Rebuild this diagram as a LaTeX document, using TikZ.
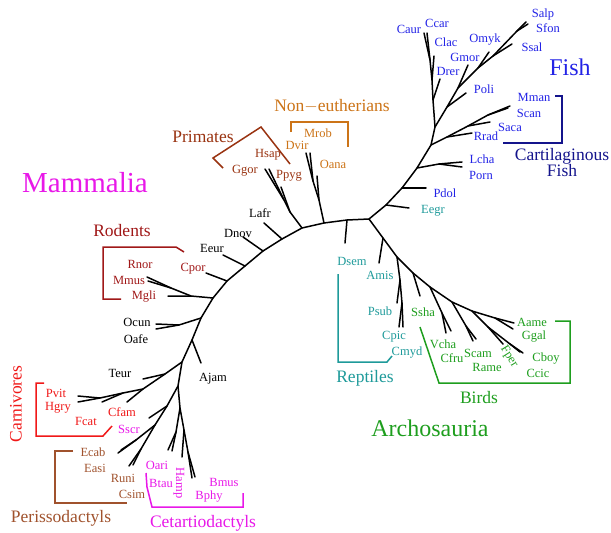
\documentclass[tikz,border=0pt]{standalone}
\usepackage{fontspec}
\setmainfont{Liberation Serif}
\definecolor{fishc}{HTML}{2323E6}
\definecolor{cartc}{HTML}{14148C}
\definecolor{tealc}{HTML}{1E9A9A}
\definecolor{birdc}{HTML}{1E9E1E}
\definecolor{rodc}{HTML}{A01818}
\definecolor{carc}{HTML}{F01818}
\definecolor{magc}{HTML}{E818E8}
\definecolor{perc}{HTML}{A0522D}
\definecolor{primc}{HTML}{993311}
\definecolor{nonc}{HTML}{CC7418}
\begin{document}
\begin{tikzpicture}[x=1pt,y=-1pt,
  br/.style={line width=1.5pt, line cap=round, line join=round},
  brk/.style={line width=1.5pt, line join=miter},
  lab/.style={inner sep=0pt, font=\fontsize{12.5}{14}\selectfont},
  grp/.style={inner sep=0pt, font=\fontsize{17.5}{20}\selectfont},
  big/.style={inner sep=0pt, font=\fontsize{24}{28}\selectfont}]
\useasboundingbox (0,0) rectangle (611,533);
% ---------- coordinates: backbone ----------
\coordinate (R) at (369,219);
\coordinate (Dn) at (347,220); \coordinate (tDsem) at (345,243);
\coordinate (M) at (324,223);
\coordinate (N1) at (319,200); \coordinate (tOana) at (317,176);
\coordinate (N2) at (313,181); \coordinate (tDvir) at (306,153); \coordinate (tMrob) at (310,153);
\coordinate (a1) at (302,228); \coordinate (a2) at (282,239); \coordinate (a3) at (263,251);
\coordinate (a4) at (245,266); \coordinate (a5) at (227,281); \coordinate (a6) at (213,298);
\coordinate (a7) at (201,318); \coordinate (a8) at (192,340);
% primates
\coordinate (P1) at (290,212); \coordinate (tPpyg) at (281,187);
\coordinate (P2) at (284,200); \coordinate (tGgor) at (265,169); \coordinate (tHsap) at (269,169);
\coordinate (tLafr) at (264,223); \coordinate (tDnov) at (243,237);
\coordinate (tEeur) at (223,255); \coordinate (tCpor) at (206,273);
% rodents
\coordinate (Ro1) at (191,296); \coordinate (tMgli) at (168,296);
\coordinate (Ro2) at (171,288); \coordinate (tRnor) at (147,277); \coordinate (tMmus) at (148,281);
% lagomorphs
\coordinate (O1) at (179,325); \coordinate (tOcun) at (156,324); \coordinate (tOafe) at (156,329);
% laurasiatheria
\coordinate (tAjam) at (201,363); \coordinate (B) at (182,362);
\coordinate (T) at (165,374); \coordinate (tTeur) at (143,379);
\coordinate (Car1) at (143,389); \coordinate (tCfam) at (127,402);
\coordinate (Car2) at (123,393); \coordinate (tFcat) at (102,402);
\coordinate (Car3) at (100,398); \coordinate (tPvit) at (78,396); \coordinate (tHgry) at (78,402);
\coordinate (C) at (178,386);
\coordinate (S1) at (167,406); \coordinate (tSscr) at (149,418);
\coordinate (Pe) at (155,425);
\coordinate (PeA) at (136,440); \coordinate (tEcab) at (118,453); \coordinate (tEasi) at (121,450);
\coordinate (PeB) at (141,449); \coordinate (tRuni) at (129,466); \coordinate (tCsim) at (133,465);
\coordinate (Ce1) at (180,408);
\coordinate (Ce2) at (176,432); \coordinate (tOari) at (168,450); \coordinate (tBtau) at (172,451);
\coordinate (Ce3) at (184,430); \coordinate (tHamp) at (182,457);
\coordinate (Ce4) at (188,452); \coordinate (tBmus) at (192,478); \coordinate (tBphy) at (195,477);
% fish
\coordinate (E1) at (386,205); \coordinate (tEegr) at (409,208);
\coordinate (Pf) at (402,188); \coordinate (tPdol) at (426,188);
\coordinate (L) at (417,168); \coordinate (L2) at (439,164);
\coordinate (tLcha) at (462,162); \coordinate (tPorn) at (462,167);
\coordinate (K) at (431,145); \coordinate (K1) at (447,137); \coordinate (tRrad) at (472,133);
\coordinate (K2) at (468,126); \coordinate (tSaca) at (490,122);
\coordinate (K3) at (488,115); \coordinate (tMman) at (510,106); \coordinate (tScan) at (508,108);
\coordinate (Tn) at (435,127);
\coordinate (C1) at (433,100); \coordinate (tDrer) at (440,79);
\coordinate (C2) at (432,80); \coordinate (tClac) at (434,56);
\coordinate (C3) at (430,60); \coordinate (tCaur) at (424,33); \coordinate (tCcar) at (427,33);
\coordinate (F1) at (447,107); \coordinate (tPoli) at (466,93);
\coordinate (F2) at (458,88); \coordinate (tGmor) at (468,65);
\coordinate (F3) at (478,68); \coordinate (tOmyk) at (489,52);
\coordinate (F4) at (493,56); \coordinate (tSsal) at (512,44);
\coordinate (F5) at (517,31); \coordinate (tSalp) at (526,22); \coordinate (tSfon) at (528,24);
% reptiles / birds
\coordinate (B0) at (383,238); \coordinate (tAmis) at (379,263);
\coordinate (T1) at (397,257); \coordinate (T2) at (400,280); \coordinate (tPsub) at (397,303);
\coordinate (T3) at (402,303); \coordinate (tCpic) at (399,327); \coordinate (tCmyd) at (403,327);
\coordinate (B1) at (413,273); \coordinate (tSsha) at (420,296);
\coordinate (B2) at (430,287); \coordinate (V) at (442,313);
\coordinate (tVcha) at (446,333); \coordinate (tCfru) at (451,331);
\coordinate (B3) at (452,302); \coordinate (Sn) at (466,326);
\coordinate (tScam) at (473,341); \coordinate (tRame) at (476,339);
\coordinate (B4) at (472,311); \coordinate (AG) at (495,318);
\coordinate (tAame) at (514,323); \coordinate (tGgal) at (513,329);
\coordinate (Fn) at (488,327); \coordinate (tFper) at (503,344);
\coordinate (CC) at (510,344); \coordinate (tCboy) at (520,352); \coordinate (tCcic) at (523,353);
% ---------- tree edges ----------
\draw[br] (tCcic) -- (CC) -- (Fn) -- (B4) -- (B3) -- (B2) -- (B1) -- (T1) -- (B0) -- (R)
  -- (Dn) -- (M) -- (a1) -- (a2) -- (a3) -- (a4) -- (a5) -- (a6) -- (a7) -- (a8) -- (B) -- (C) -- (Ce1) -- (Ce3) -- (Ce4) -- (tBphy);
\draw[br] (CC) -- (tCboy); \draw[br] (Fn) -- (tFper);
\draw[br] (B4) -- (AG) -- (tAame); \draw[br] (AG) -- (tGgal);
\draw[br] (B3) -- (Sn) -- (tScam); \draw[br] (Sn) -- (tRame);
\draw[br] (B2) -- (V) -- (tVcha); \draw[br] (V) -- (tCfru);
\draw[br] (B1) -- (tSsha);
\draw[br] (T1) -- (T2) -- (T3) -- (tCpic); \draw[br] (T3) -- (tCmyd); \draw[br] (T2) -- (tPsub);
\draw[br] (B0) -- (tAmis);
\draw[br] (Dn) -- (tDsem);
\draw[br] (M) -- (N1) -- (tOana); \draw[br] (N1) -- (N2) -- (tDvir); \draw[br] (N2) -- (tMrob);
\draw[br] (a1) -- (P1) -- (tPpyg); \draw[br] (P1) -- (P2) -- (tGgor); \draw[br] (P2) -- (tHsap);
\draw[br] (a2) -- (tLafr); \draw[br] (a3) -- (tDnov); \draw[br] (a4) -- (tEeur); \draw[br] (a5) -- (tCpor);
\draw[br] (a6) -- (Ro1) -- (tMgli); \draw[br] (Ro1) -- (Ro2) -- (tRnor); \draw[br] (Ro2) -- (tMmus);
\draw[br] (a7) -- (O1) -- (tOcun); \draw[br] (O1) -- (tOafe);
\draw[br] (a8) -- (tAjam);
\draw[br] (B) -- (T) -- (tTeur); \draw[br] (T) -- (Car1) -- (Car2) -- (Car3) -- (tPvit); \draw[br] (Car3) -- (tHgry);
\draw[br] (Car1) -- (tCfam); \draw[br] (Car2) -- (tFcat);
\draw[br] (C) -- (S1) -- (tSscr); \draw[br] (S1) -- (Pe) -- (PeA) -- (tEcab); \draw[br] (PeA) -- (tEasi);
\draw[br] (Pe) -- (PeB) -- (tRuni); \draw[br] (PeB) -- (tCsim);
\draw[br] (Ce1) -- (Ce2) -- (tOari); \draw[br] (Ce2) -- (tBtau);
\draw[br] (Ce3) -- (tHamp); \draw[br] (Ce4) -- (tBmus);
% fish
\draw[br] (R) -- (E1) -- (Pf) -- (L) -- (K) -- (Tn) -- (F1) -- (F2) -- (F3) -- (F4) -- (F5) -- (tSalp);
\draw[br] (F5) -- (tSfon); \draw[br] (F4) -- (tSsal); \draw[br] (F3) -- (tOmyk);
\draw[br] (F2) -- (tGmor); \draw[br] (F1) -- (tPoli);
\draw[br] (Tn) -- (C1) -- (C2) -- (C3) -- (tCaur); \draw[br] (C3) -- (tCcar);
\draw[br] (C2) -- (tClac); \draw[br] (C1) -- (tDrer);
\draw[br] (K) -- (K1) -- (tRrad); \draw[br] (K1) -- (K2) -- (tSaca); \draw[br] (K2) -- (K3) -- (tMman); \draw[br] (K3) -- (tScan);
\draw[br] (L) -- (L2) -- (tLcha); \draw[br] (L2) -- (tPorn);
\draw[br] (Pf) -- (tPdol); \draw[br] (E1) -- (tEegr);
% ---------- labels: fish ----------
\begin{scope}[fishc]
\node[lab] (lCaur) at (409,29) {Caur};
\node[lab] (lCcar) at (437,23) {Ccar};
\node[lab] (lClac) at (446,42) {Clac};
\node[lab] (lOmyk) at (485,40) {Omyk};
\node[lab] (lGmor) at (465,57) {Gmor};
\node[lab] (lDrer) at (448,71) {Drer};
\node[lab] (lPoli) at (484,89) {Poli};
\node[lab] (lSalp) at (543,14) {Salp};
\node[lab] (lSfon) at (548,28) {Sfon};
\node[lab] (lSsal) at (532,47) {Ssal};
\node[lab] (lMman) at (534,97) {Mman};
\node[lab] (lScan) at (529,113) {Scan};
\node[lab] (lSaca) at (510,127) {Saca};
\node[lab] (lRrad) at (486,136) {Rrad};
\node[lab] (lLcha) at (482,159) {Lcha};
\node[lab] (lPorn) at (481,175) {Porn};
\node[lab] (lPdol) at (445,193) {Pdol};
\node[big] (lFish) at (570,67) {Fish};
\end{scope}
\node[grp, cartc, align=center, font=\fontsize{17.5}{16}\selectfont] (lCart) at (562,163) {Cartilaginous\\Fish};
\coordinate (kc1) at (555,96); \coordinate (kc2) at (562,96); \coordinate (kc3) at (562,143); \coordinate (kc4) at (503,143);
\draw[brk, cartc] (kc1) -- (kc2) -- (kc3) -- (kc4);
% ---------- reptiles ----------
\begin{scope}[tealc]
\node[lab] (lEegr) at (433,211) {Eegr};
\node[lab] (lDsem) at (352,261) {Dsem};
\node[lab] (lAmis) at (380,275) {Amis};
\node[lab] (lPsub) at (380,311) {Psub};
\node[lab] (lCpic) at (394,337) {Cpic};
\node[lab] (lCmyd) at (407,353) {Cmyd};
\node[grp] (lRept) at (365,378) {Reptiles};
\coordinate (rb1) at (338,274); \coordinate (rb2) at (338,362); \coordinate (rb3) at (387,362); \coordinate (rb4) at (392,356);
\draw[brk] (rb1) -- (rb2) -- (rb3) -- (rb4);
\end{scope}
% ---------- birds ----------
\begin{scope}[birdc]
\node[lab] (lSsha) at (423,312) {Ssha};
\node[lab] (lVcha) at (443,344) {Vcha};
\node[lab] (lCfru) at (452,358) {Cfru};
\node[lab] (lScam) at (478,353) {Scam};
\node[lab] (lRame) at (487,367) {Rame};
\node[lab, rotate=-58] (lFper) at (509,357) {Fper};
\node[lab] (lAame) at (532,322) {Aame};
\node[lab] (lGgal) at (534,337) {Ggal};
\node[lab] (lCboy) at (546,359) {Cboy};
\node[lab] (lCcic) at (538,373) {Ccic};
\node[grp] (lBirds) at (479,398) {Birds};
\node[big] (lArch) at (430,428) {Archosauria};
\coordinate (bb1) at (420,327); \coordinate (bb2) at (439,383); \coordinate (bb3) at (570,383);
\coordinate (bb4) at (570,321); \coordinate (bb5) at (555,321);
\draw[brk] (bb1) -- (bb2) -- (bb3) -- (bb4) -- (bb5);
\end{scope}
% ---------- mammals ----------
\node[inner sep=0pt, magc, font=\fontsize{29}{32}\selectfont] (lMamm) at (85,183) {Mammalia};
\begin{scope}[primc]
\node[grp] (lPrim) at (203,137) {Primates};
\node[lab] (lHsap) at (268,155) {Hsap};
\node[lab] (lGgor) at (245,171) {Ggor};
\node[lab] (lPpyg) at (289,176) {Ppyg};
\coordinate (pb1) at (223,168); \coordinate (pb2) at (213,158); \coordinate (pb3) at (261,127); \coordinate (pb4) at (290,164);
\draw[brk] (pb1) -- (pb2) -- (pb3) -- (pb4);
\end{scope}
\begin{scope}[nonc]
\node[grp] (lNon) at (332,106) {Non$-$eutherians};
\node[lab] (lDvir) at (297,145) {Dvir};
\node[lab] (lMrob) at (318,133) {Mrob};
\node[lab] (lOana) at (333,164) {Oana};
\coordinate (nb1) at (291,132); \coordinate (nb2) at (291,122); \coordinate (nb3) at (348,122); \coordinate (nb4) at (348,147);
\draw[brk] (nb1) -- (nb2) -- (nb3) -- (nb4);
\end{scope}
\node[lab] (lLafr) at (260,213) {Lafr};
\node[lab] (lDnov) at (238,233) {Dnov};
\node[lab] (lEeur) at (212,248) {Eeur};
\node[lab] (lOcun) at (137,322) {Ocun};
\node[lab] (lOafe) at (136,339) {Oafe};
\node[lab] (lTeur) at (120,373) {Teur};
\node[lab] (lAjam) at (213,379) {Ajam};
\begin{scope}[rodc]
\node[grp] (lRod) at (122,231) {Rodents};
\node[lab] (lRnor) at (140,264) {Rnor};
\node[lab] (lMmus) at (129,280) {Mmus};
\node[lab] (lMgli) at (144,297) {Mgli};
\node[lab] (lCpor) at (193,269) {Cpor};
\coordinate (ob1) at (121,299); \coordinate (ob2) at (103,299); \coordinate (ob3) at (103,247);
\coordinate (ob4) at (176,247); \coordinate (ob5) at (184,252);
\draw[brk] (ob1) -- (ob2) -- (ob3) -- (ob4) -- (ob5);
\end{scope}
\begin{scope}[carc]
\node[grp, rotate=90] (lCarn) at (16,404) {Carnivores};
\node[lab] (lPvit) at (56,393) {Pvit};
\node[lab] (lHgry) at (58,408) {Hgry};
\node[lab] (lFcat) at (86,421) {Fcat};
\node[lab] (lCfam) at (122,412) {Cfam};
\coordinate (cb1) at (44,383); \coordinate (cb2) at (36,383); \coordinate (cb3) at (36,436);
\coordinate (cb4) at (103,436); \coordinate (cb5) at (112,426);
\draw[brk] (cb1) -- (cb2) -- (cb3) -- (cb4) -- (cb5);
\end{scope}
\begin{scope}[magc]
\node[lab] (lSscr) at (129,429) {Sscr};
\node[lab] (lOari) at (157,465) {Oari};
\node[lab] (lBtau) at (161,483) {Btau};
\node[lab, rotate=-90] (lHamp) at (179,483) {Hamp};
\node[lab] (lBmus) at (224,482) {Bmus};
\node[lab] (lBphy) at (209,497) {Bphy};
\node[grp] (lCet) at (203,523) {Cetartiodactyls};
\coordinate (eb1) at (146,473); \coordinate (eb2) at (147,487); \coordinate (eb3) at (152,507);
\coordinate (eb4) at (243,507); \coordinate (eb5) at (243,493);
\draw[brk] (eb1) -- (eb2) -- (eb3) -- (eb4) -- (eb5);
\end{scope}
\begin{scope}[perc]
\node[lab] (lEcab) at (93,452) {Ecab};
\node[lab] (lEasi) at (95,468) {Easi};
\node[lab] (lRuni) at (123,478) {Runi};
\node[lab] (lCsim) at (132,494) {Csim};
\node[grp] (lPer) at (61,518) {Perissodactyls};
\coordinate (qb1) at (73,451); \coordinate (qb2) at (55,451); \coordinate (qb3) at (55,503); \coordinate (qb4) at (127,503);
\draw[brk] (qb1) -- (qb2) -- (qb3) -- (qb4);
\end{scope}
\end{tikzpicture}
\end{document}
